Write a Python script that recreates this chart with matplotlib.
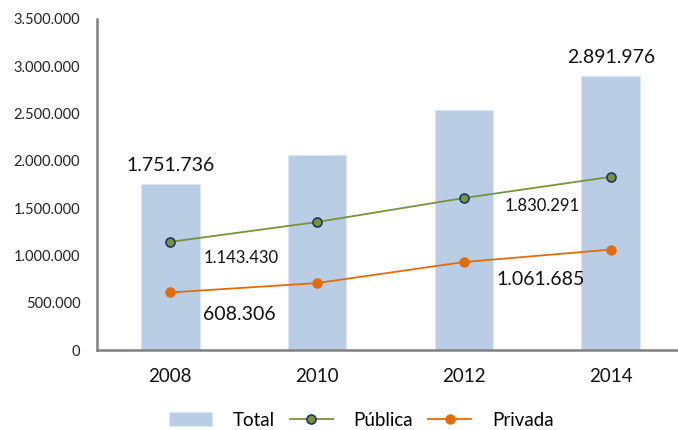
import matplotlib
matplotlib.use("Agg")
import matplotlib.pyplot as plt
from matplotlib.ticker import FuncFormatter, MultipleLocator

years = ["2008", "2010", "2012", "2014"]
total = [1751736, 2062000, 2538000, 2891976]
publica = [1143430, 1353000, 1607000, 1830291]
privada = [608306, 708000, 930000, 1061685]

def fmt(v):
    return f"{int(v):,}".replace(",", ".")

plt.rcParams['font.family'] = ['Lato', 'DejaVu Sans']

fig = plt.figure(figsize=(6.78, 4.30), dpi=100)
ax = fig.add_axes([0.143, 0.186, 0.866, 0.770])
x = list(range(len(years)))

hb = ax.bar(x, total, width=0.40, color="#B9CDE5", edgecolor="#DCE6F2", linewidth=0.8, label="Total", zorder=1)
hp, = ax.plot(x, publica, color="#77933C", linewidth=1.3, marker="o", markersize=6.5,
        markerfacecolor="#77933C", markeredgecolor="#1F3864", markeredgewidth=1.2, label="Pública", zorder=3)
hv, = ax.plot(x, privada, color="#E36C09", linewidth=1.3, marker="o", markersize=6.5,
        markerfacecolor="#E36C09", markeredgecolor="#E36C09", label="Privada", zorder=3)

ax.set_xlim(-0.5, 3.5)
ax.set_ylim(0, 3500000)
ax.yaxis.set_major_locator(MultipleLocator(500000))
ax.yaxis.set_major_formatter(FuncFormatter(lambda v, p: fmt(v)))
ax.set_xticks(x)
ax.set_xticklabels(years, fontsize=13.5)
ax.tick_params(axis='y', length=0, labelsize=10.5, pad=12, colors="#222222")
ax.tick_params(axis='x', length=0, pad=13, colors="#111111")
for s in ["top", "right"]:
    ax.spines[s].set_visible(False)
for s in ["left", "bottom"]:
    ax.spines[s].set_color("#808080")
    ax.spines[s].set_linewidth(1.8)

# data labels
ax.annotate(fmt(total[0]), (x[0], total[0]), xytext=(0, 10), textcoords="offset pixels",
            ha="center", va="bottom", fontsize=14, color="#111111")
ax.annotate(fmt(total[3]), (x[3], total[3]), xytext=(0, 10), textcoords="offset pixels",
            ha="center", va="bottom", fontsize=14, color="#111111")
ax.annotate(fmt(publica[0]), (x[0], publica[0]), xytext=(33, -16), textcoords="offset pixels",
            ha="left", va="center", fontsize=12, color="#111111")
ax.annotate(fmt(privada[0]), (x[0], privada[0]), xytext=(33, -22), textcoords="offset pixels",
            ha="left", va="center", fontsize=14, color="#111111")
ax.annotate(fmt(publica[3]), (x[3], publica[3]), xytext=(-31, -29), textcoords="offset pixels",
            ha="right", va="center", fontsize=12, color="#111111")
ax.annotate(fmt(privada[3]), (x[3], privada[3]), xytext=(-26, -30), textcoords="offset pixels",
            ha="right", va="center", fontsize=14, color="#111111")

fig.legend([hb, hp, hv], ["Total", "Pública", "Privada"], loc="center",
           bbox_to_anchor=(0.533, 0.023), ncol=3, frameon=False,
           fontsize=13.5, handlelength=2.3, handleheight=0.7, handletextpad=1.1, columnspacing=0.8)

fig.savefig("out.png", dpi=100)
